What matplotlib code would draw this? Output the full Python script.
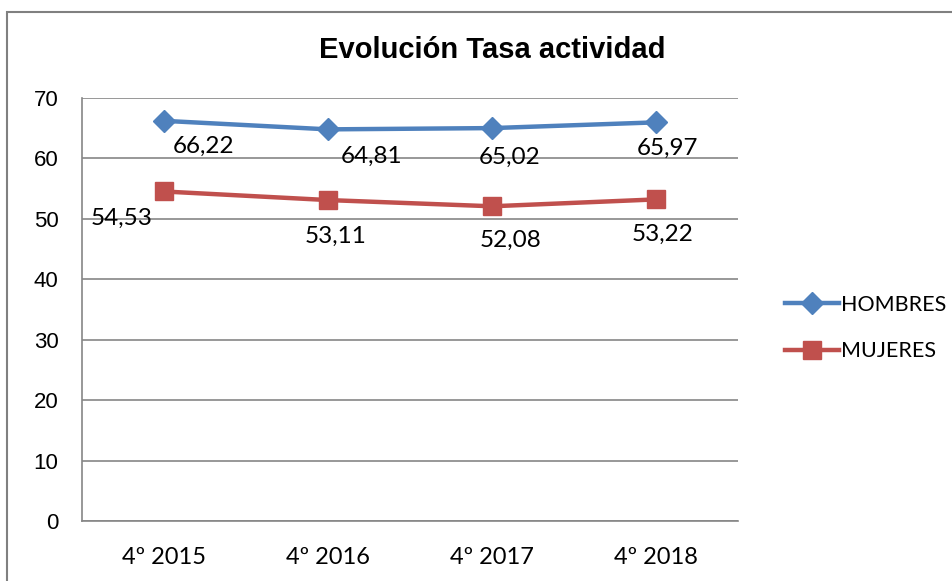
import matplotlib.pyplot as plt
from matplotlib.patches import Rectangle

categories = ["4º 2015", "4º 2016", "4º 2017", "4º 2018"]
hombres = [66.22, 64.81, 65.02, 65.97]
mujeres = [54.53, 53.11, 52.08, 53.22]

# label offsets in pixels (dx, dy) as placed in the original
hombres_offsets = [(40, -26), (44, -27), (18, -29), (12, -26)]
mujeres_offsets = [(-42, -27), (8, -36), (19, -34), (7, -35)]

blue = "#4F81BD"
red = "#C0504D"
label_font = "Lato"

W, H = 953, 581
fig = plt.figure(figsize=(W / 100, H / 100), dpi=100)
ax = fig.add_axes([82 / W, 1 - 521 / H, (738 - 82) / W, (521 - 98) / H])

x = list(range(len(categories)))
ax.plot(x, hombres, color=blue, lw=3.2, marker="D", ms=11, label="HOMBRES")
ax.plot(x, mujeres, color=red, lw=3.2, marker="s", ms=13, label="MUJERES")

for xi, v, (dx, dy) in zip(x, hombres, hombres_offsets):
    ax.annotate(f"{v:.2f}".replace(".", ","), (xi, v), xytext=(dx * 0.72, dy * 0.72),
                textcoords="offset points", ha="center", va="center",
                fontsize=17.5, family=label_font)
for xi, v, (dx, dy) in zip(x, mujeres, mujeres_offsets):
    ax.annotate(f"{v:.2f}".replace(".", ","), (xi, v), xytext=(dx * 0.72, dy * 0.72),
                textcoords="offset points", ha="center", va="center",
                fontsize=17.5, family=label_font)

ax.set_xlim(-0.5, 3.5)
ax.set_ylim(0, 70)
ax.set_yticks(range(0, 71, 10))
ax.set_xticks(x)
ax.set_xticklabels(categories, family=label_font, fontsize=17)
for t in ax.get_yticklabels():
    t.set_family("Liberation Sans")
    t.set_fontsize(16)
ax.tick_params(length=0, pad=17)
ax.tick_params(axis="x", pad=19)
ax.grid(axis="y", color="#868686", lw=1.2)
ax.set_axisbelow(True)
for s in ["top", "right"]:
    ax.spines[s].set_visible(False)
for s in ["left", "bottom"]:
    ax.spines[s].set_color("#868686")
    ax.spines[s].set_linewidth(1.2)

fig.text(492 / W, 1 - 50 / H, "Evolución Tasa actividad", ha="center", va="center",
         fontsize=21, fontweight="bold", family="Liberation Sans")

leg = fig.legend(loc="center left", bbox_to_anchor=(766 / W, 1 - 328 / H), frameon=False,
                 prop={"family": label_font, "size": 15.5}, handlelength=2.5,
                 handletextpad=0.1, labelspacing=1.25)

fig.patches.append(Rectangle((7 / W, -0.1), 1.2, 1.1 - 12 / H, transform=fig.transFigure,
                             fill=False, edgecolor="#808080", lw=1.5))

fig.savefig("out.png", dpi=100)
